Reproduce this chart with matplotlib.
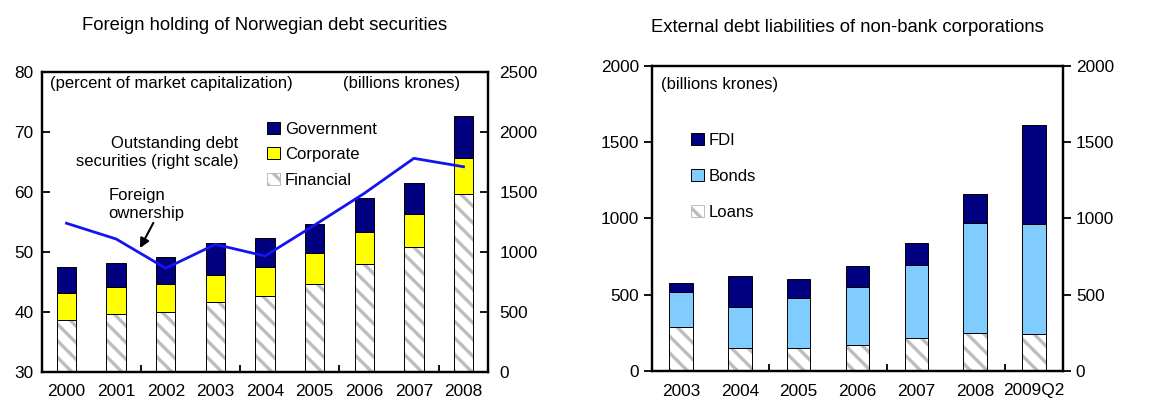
"""
Two-panel chart: foreign holding of Norwegian debt securities and
external debt liabilities of non-bank corporations
"""
import matplotlib
matplotlib.use('Agg')
import matplotlib.pyplot as plt
from matplotlib.patches import Patch

plt.rcParams['font.family'] = ['Liberation Sans', 'DejaVu Sans']
plt.rcParams['hatch.linewidth'] = 2.4

years_left = ['2000', '2001', '2002', '2003', '2004', '2005', '2006', '2007', '2008']
financial = [38.7, 39.7, 40.0, 41.6, 42.7, 44.6, 47.9, 50.8, 59.7]
corporate_top = [43.2, 44.1, 44.7, 46.2, 47.5, 49.8, 53.3, 56.3, 65.6]
government_top = [47.5, 48.2, 49.1, 51.4, 52.3, 54.7, 58.9, 61.5, 72.6]
# Outstanding debt securities, billions krones (right scale)
outstanding = [1237, 1106, 862, 1061, 964, 1222, 1486, 1778, 1708]

years_right = ['2003', '2004', '2005', '2006', '2007', '2008', '2009Q2']
loans = [286, 148, 153, 170, 216, 251, 242]
bonds_top = [515, 417, 478, 552, 697, 972, 965]
fdi_top = [574, 622, 600, 688, 841, 1159, 1609]

NAVY = '#000080'
YELLOW = '#FFFF00'
LIGHTBLUE = '#80CCFF'
HATCH_GREY = '#bdbdbd'
LINE_BLUE = '#1414F0'
FS_TITLE = 13.3
FS_TICK = 12.4
FS = 12.0

fig = plt.figure(figsize=(11.62, 3.99), dpi=100)
W, H = 1162, 399


def axes_px(x0, y0, x1, y1):
    # pixel box (top-left origin) -> figure axes
    return fig.add_axes([x0 / W, 1 - y1 / H, (x1 - x0) / W, (y1 - y0) / H])


def style_spines(ax):
    for s in ax.spines.values():
        s.set_linewidth(1.6)


# ---------------- Left panel ----------------
ax1 = axes_px(41.7, 71.7, 488.3, 371.7)
ax1.set_xlim(-0.5, 8.5)
ax1.set_ylim(30, 80)
fin_heights = [f - 30 for f in financial]
ax1.bar(range(9), fin_heights, 0.39, bottom=30, color='white',
        edgecolor=HATCH_GREY, hatch='\\\\', linewidth=0, zorder=2)
ax1.bar(range(9), fin_heights, 0.39, bottom=30, fill=False,
        edgecolor='black', linewidth=0.7, zorder=3)
ax1.bar(range(9), [c - f for c, f in zip(corporate_top, financial)], 0.39,
        bottom=financial, color=YELLOW, edgecolor='black', linewidth=0.7, zorder=3)
ax1.bar(range(9), [g - c for g, c in zip(government_top, corporate_top)], 0.39,
        bottom=corporate_top, color=NAVY, edgecolor='black', linewidth=0.7, zorder=3)

ax1.set_yticks([30, 40, 50, 60, 70, 80])
ax1.tick_params(axis='y', direction='in', length=6, width=1.3, labelsize=FS_TICK, pad=6)
ax1.set_xticks(range(9))
ax1.set_xticklabels(years_left)
ax1.set_xticks([1.5, 3.5, 5.5, 7.5], minor=True)
ax1.tick_params(axis='x', which='major', length=0, labelsize=FS_TICK, pad=9)
ax1.tick_params(axis='x', which='minor', direction='in', length=5, width=1.3)
style_spines(ax1)

ax1r = ax1.twinx()
ax1r.set_ylim(0, 2500)
ax1r.set_yticks([0, 500, 1000, 1500, 2000, 2500])
ax1r.tick_params(axis='y', direction='in', length=6, width=1.3, labelsize=FS_TICK, pad=8)
ax1r.plot(range(9), outstanding, color=LINE_BLUE, linewidth=2.0, zorder=4)
style_spines(ax1r)

ax1.text(0.019, 0.962, '(percent of market capitalization)', transform=ax1.transAxes,
         fontsize=FS, va='center', ha='left')
ax1.text(0.674, 0.962, '(billions krones)', transform=ax1.transAxes,
         fontsize=FS, va='center', ha='left')
ax1.text(0.44, 0.731, 'Outstanding debt\nsecurities (right scale)', transform=ax1.transAxes,
         fontsize=FS, va='center', ha='right', multialignment='right', linespacing=1.25)
ax1.text(0.149, 0.556, 'Foreign\nownership', transform=ax1.transAxes,
         fontsize=FS, va='center', ha='left', linespacing=1.25)
ax1.annotate('', xy=(1.48, 50.6), xytext=(1.75, 54.8),
             arrowprops=dict(arrowstyle='-|>', color='black', lw=1.5,
                             mutation_scale=14, shrinkA=0, shrinkB=0), zorder=5)

handles_left = [
    Patch(facecolor=NAVY, edgecolor='black', linewidth=0.7, label='Government'),
    Patch(facecolor=YELLOW, edgecolor='black', linewidth=0.7, label='Corporate'),
    Patch(facecolor='white', edgecolor=HATCH_GREY, hatch='\\\\', linewidth=0.7, label='Financial'),
]
ax1.legend(handles=handles_left, loc='upper left', bbox_to_anchor=(0.49, 0.855),
           frameon=False, fontsize=FS, handlelength=0.75, handleheight=0.75,
           handletextpad=0.3, labelspacing=0.62, borderaxespad=0)

fig.text(265 / W, 1 - 25 / H, 'Foreign holding of Norwegian debt securities',
         fontsize=FS_TITLE, ha='center', va='center')

# ---------------- Right panel ----------------
ax2 = axes_px(651.7, 65.7, 1063.3, 371.0)
ax2.set_xlim(-0.5, 6.5)
ax2.set_ylim(0, 2000)
ax2.bar(range(7), loans, 0.4, color='white', edgecolor=HATCH_GREY, hatch='\\\\',
        linewidth=0, zorder=2)
ax2.bar(range(7), loans, 0.4, fill=False, edgecolor='black', linewidth=0.7, zorder=3)
ax2.bar(range(7), [b - l for b, l in zip(bonds_top, loans)], 0.4, bottom=loans,
        color=LIGHTBLUE, edgecolor='black', linewidth=0.7, zorder=3)
ax2.bar(range(7), [f - b for f, b in zip(fdi_top, bonds_top)], 0.4, bottom=bonds_top,
        color=NAVY, edgecolor='black', linewidth=0.7, zorder=3)

ax2.set_yticks([0, 500, 1000, 1500, 2000])
ax2.tick_params(axis='y', direction='out', length=6, width=1.3, labelsize=FS_TICK, pad=3)
ax2.set_xticks(range(7))
ax2.set_xticklabels(years_right)
ax2.set_xticks([1.5, 3.5, 5.5], minor=True)
ax2.tick_params(axis='x', which='major', length=0, labelsize=FS_TICK, pad=9)
ax2.tick_params(axis='x', which='minor', direction='in', length=5, width=1.3)
style_spines(ax2)

ax2r = ax2.twinx()
ax2r.set_ylim(0, 2000)
ax2r.set_yticks([0, 500, 1000, 1500, 2000])
ax2r.tick_params(axis='y', direction='out', length=6, width=1.3, labelsize=FS_TICK, pad=3)
style_spines(ax2r)

ax2.text(0.023, 0.937, '(billions krones)', transform=ax2.transAxes,
         fontsize=FS, va='center', ha='left')

handles_right = [
    Patch(facecolor=NAVY, edgecolor='black', linewidth=0.7, label='FDI'),
    Patch(facecolor=LIGHTBLUE, edgecolor='black', linewidth=0.7, label='Bonds'),
    Patch(facecolor='white', edgecolor=HATCH_GREY, hatch='\\\\', linewidth=0.7, label='Loans'),
]
ax2.legend(handles=handles_right, loc='upper left', bbox_to_anchor=(0.08, 0.803),
           frameon=False, fontsize=FS, handlelength=0.75, handleheight=0.75,
           handletextpad=0.3, labelspacing=1.28, borderaxespad=0)

fig.text(847 / W, 1 - 28 / H, 'External debt liabilities of non-bank corporations',
         fontsize=FS_TITLE, ha='center', va='center')

fig.savefig('out.png', dpi=100)
plt.close(fig)
